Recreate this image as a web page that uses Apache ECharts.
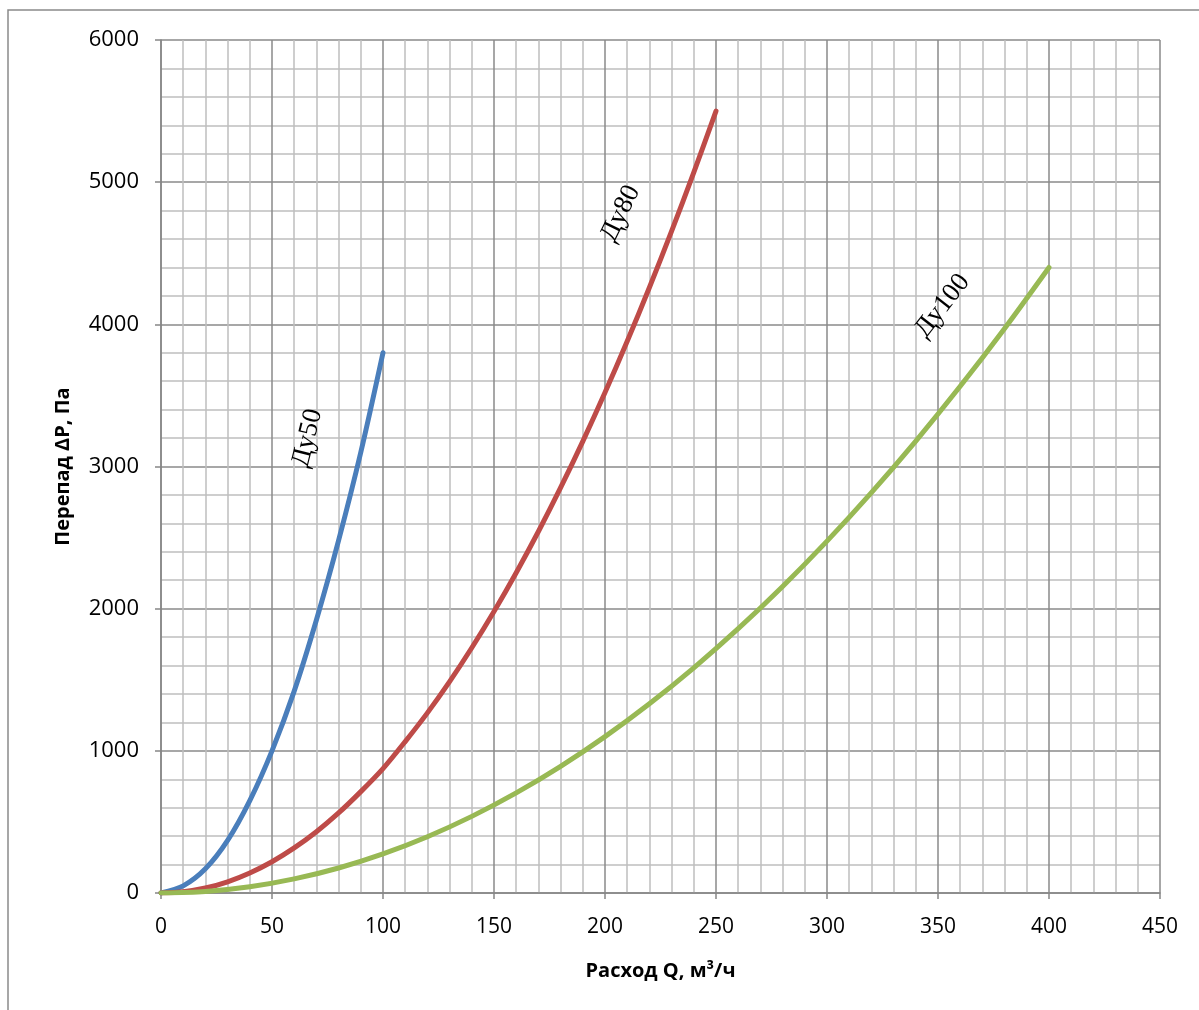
<!DOCTYPE html>
<html>
<head>
<meta charset="utf-8">
<script src="https://cdn.jsdelivr.net/npm/echarts@6/dist/echarts.min.js"></script>
<style>
    html, body { margin: 0; padding: 0; background: #fff; }
    #main { width: 1199px; height: 1010px; }
</style>
</head>
<body>
<div id="main"></div>
<script>
// values: [Q, dP]
var du50 = [[0, 0], [10, 50], [20, 170], [30, 370], [40, 650], [50, 1000], [60, 1420], [70, 1920], [80, 2480], [90, 3100], [100, 3800]];
var du80 = [[0, 0], [10, 9], [20, 35], [30, 79], [40, 141], [50, 220], [60, 317], [70, 431], [80, 563], [90, 713], [100, 875],
    [110, 1065], [120, 1267], [130, 1487], [140, 1725], [150, 1980], [160, 2253], [170, 2543], [180, 2851], [190, 3177], [200, 3520],
    [210, 3881], [220, 4259], [230, 4655], [240, 5069], [250, 5500]];
var du100 = [[0, 0], [20, 11], [40, 44], [60, 99], [80, 176], [100, 275], [120, 396], [140, 539], [160, 704], [180, 891], [200, 1100],
    [220, 1331], [240, 1584], [260, 1859], [280, 2156], [300, 2475], [320, 2816], [340, 3179], [360, 3564], [380, 3971], [400, 4400]];

var names = ['Ду50', 'Ду80', 'Ду100'];
var colors = ['#4a7ebb', '#be4b48', '#98b954'];
// where the curve names sit (data coords) and their tilt in degrees
var labelAt = [[66, 3200], [207, 4780], [352, 4130]];
var labelTilt = [76, 64, 52];

var xTicks = { min: 0, max: 450, interval: 50 };
var yTicks = { min: 0, max: 6000, interval: 1000 };

var myChart = echarts.init(document.getElementById('main'));

var axisCommon = {
    axisLine: { show: true, lineStyle: { color: '#868686', width: 1.5 } },
    axisTick: { show: true, inside: false, length: 6, lineStyle: { color: '#868686', width: 1.5 } },
    splitLine: { show: true, lineStyle: { color: '#8a8a8a', width: 1.5 } },
    minorTick: { show: true, splitNumber: 5, length: 0 },
    minorSplitLine: { show: true, lineStyle: { color: '#bfbfbf', width: 1.5 } },
    nameTextStyle: { fontFamily: 'Open Sans', fontWeight: 'bold', fontSize: 20, color: '#000' },
    axisLabel: { fontFamily: 'Open Sans', fontSize: 21, color: '#000', formatter: function (v) { return String(v); } }
};

var series = [du50, du80, du100].map(function (d, i) {
    return {
        name: names[i],
        type: 'line',
        data: d,
        smooth: 0.3,
        showSymbol: false,
        symbol: 'none',
        lineStyle: { color: colors[i], width: 5, cap: 'round', join: 'round' },
        itemStyle: { color: colors[i] },
        z: 3
    };
});

var option = {
    animation: false,
    backgroundColor: '#fff',
    grid: { left: 161, top: 40, right: 39, bottom: 117 },
    xAxis: Object.assign({}, axisCommon, {
        type: 'value',
        min: xTicks.min, max: xTicks.max, interval: xTicks.interval,
        name: 'Расход Q, м³/ч',
        nameLocation: 'middle',
        nameGap: 68,
        axisLabel: Object.assign({}, axisCommon.axisLabel, { margin: 24 })
    }),
    yAxis: Object.assign({}, axisCommon, {
        type: 'value',
        min: yTicks.min, max: yTicks.max, interval: yTicks.interval,
        name: 'Перепад ΔР, Па',
        nameLocation: 'middle',
        nameGap: 88,
        axisLabel: Object.assign({}, axisCommon.axisLabel, { fontSize: 22, margin: 22 })
    }),
    series: series
};

myChart.setOption(option);

// curve names and the outer frame
var graphics = [{
    type: 'rect',
    shape: { x: 8, y: 10, width: 1300, height: 1100 },
    style: { fill: 'none', stroke: '#8a8a8a', lineWidth: 1.5 },
    silent: true
}];
labelAt.forEach(function (p, i) {
    var px = myChart.convertToPixel({ gridIndex: 0 }, p);
    graphics.push({
        type: 'text',
        x: px[0], y: px[1],
        rotation: labelTilt[i] * Math.PI / 180,
        style: {
            text: names[i],
            font: '27px "Liberation Serif"',
            fill: '#000',
            align: 'center',
            verticalAlign: 'middle'
        },
        z: 10
    });
});
myChart.setOption({ graphic: graphics });
</script>
</body>
</html>
